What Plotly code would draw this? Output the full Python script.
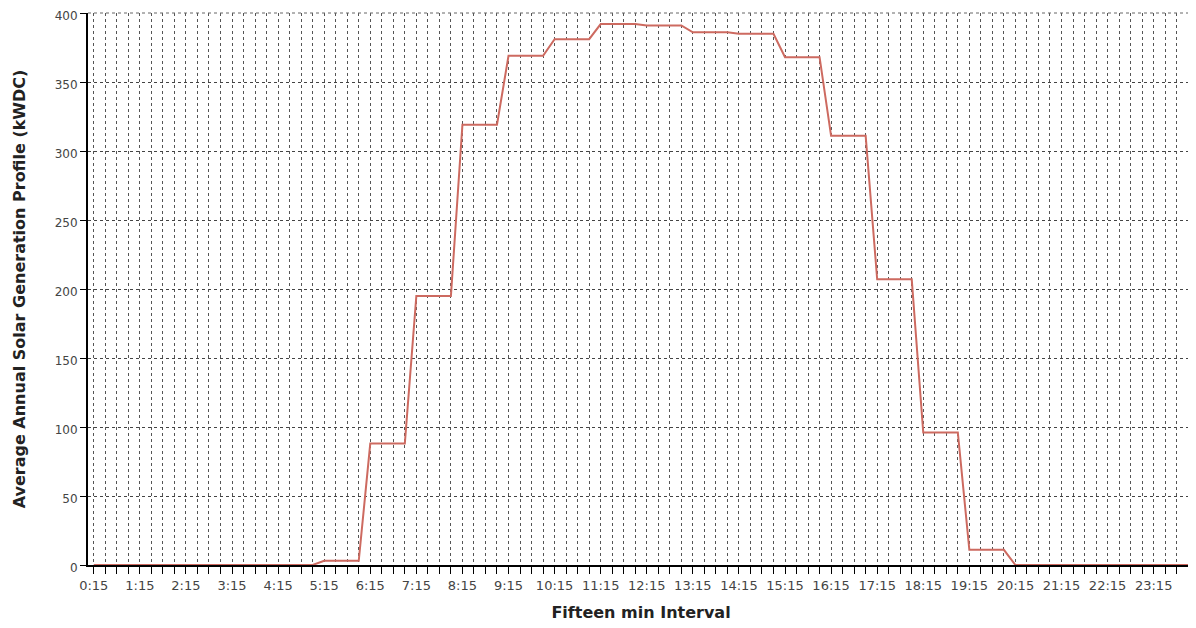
import plotly.graph_objects as go

# 96 fifteen-minute categories: 0:15 ... 24:00
categories = [f"{(m // 60)}:{m % 60:02d}" for m in range(15, 24 * 60 + 1, 15)]

# Average annual solar generation (kWDC)
values = [
    0, 0, 0, 0,          # 0:15 - 1:00
    0, 0, 0, 0,          # 1:15 - 2:00
    0, 0, 0, 0,          # 2:15 - 3:00
    0, 0, 0, 0,          # 3:15 - 4:00
    0, 0, 0, 0,          # 4:15 - 5:00
    3, 3, 3, 3,          # 5:15 - 6:00
    88, 88, 88, 88,      # 6:15 - 7:00
    195, 195, 195, 195,  # 7:15 - 8:00
    319, 319, 319, 319,  # 8:15 - 9:00
    369, 369, 369, 369,  # 9:15 - 10:00
    381, 381, 381, 381,  # 10:15 - 11:00
    392, 392, 392, 392,  # 11:15 - 12:00
    391, 391, 391, 391,  # 12:15 - 13:00
    386, 386, 386, 386,  # 13:15 - 14:00
    385, 385, 385, 385,  # 14:15 - 15:00
    368, 368, 368, 368,  # 15:15 - 16:00
    311, 311, 311, 311,  # 16:15 - 17:00
    207, 207, 207, 207,  # 17:15 - 18:00
    96, 96, 96, 96,      # 18:15 - 19:00
    11, 11, 11, 11,      # 19:15 - 20:00
    0, 0, 0, 0,          # 20:15 - 21:00
    0, 0, 0, 0,          # 21:15 - 22:00
    0, 0, 0, 0,          # 22:15 - 23:00
    0, 0, 0, 0,          # 23:15 - 24:00
]

# tick labels: every hour at :15
tick_labels = [c if c.endswith(":15") else "" for c in categories]

y_ticks = [0, 50, 100, 150, 200, 250, 300, 350, 400]

fig = go.Figure()
fig.add_trace(go.Scatter(
    x=categories, y=values, mode="lines",
    line=dict(color="#cd6a60", width=2),
    showlegend=False, hoverinfo="x+y",
))

font_family = "DejaVu Sans, Verdana, sans-serif"

# page body has an 8px default margin, so the figure is sized to fit the window
fig.update_layout(
    width=1188, height=620,
    margin=dict(l=80, r=2, t=5, b=63),
    paper_bgcolor="white", plot_bgcolor="white",
    font=dict(family=font_family, color="#333333", size=12),
    xaxis=dict(
        type="category", automargin=False,
        categoryorder="array", categoryarray=categories,
        range=[-0.5, len(categories) - 0.5],
        tickmode="array", tickvals=categories, ticktext=tick_labels,
        tickangle=0, ticklabeloverflow="allow",
        showgrid=True, gridcolor="#555555", gridwidth=1, griddash="dot",
        showline=True, linecolor="black", linewidth=2,
        ticks="outside", ticklen=7, tickcolor="black", tickwidth=1,
        tickfont=dict(size=13, color="#444444"),
        title=dict(text="<b>Fifteen min Interval</b>", standoff=15,
                   font=dict(size=16, color="#222222")),
        zeroline=False, mirror=False,
    ),
    yaxis=dict(
        range=[0, 400], automargin=False,
        tickmode="array", tickvals=y_ticks, ticklabeloverflow="allow",
        ticklabelshift=3,
        showgrid=True, gridcolor="#444444", gridwidth=1, griddash="dot",
        showline=True, linecolor="black", linewidth=2,
        ticks="outside", ticklen=6, tickcolor="black", tickwidth=1,
        tickfont=dict(size=12, color="#444444"),
        title=dict(text="<b>Average Annual Solar Generation Profile (kWDC)</b>",
                   standoff=25, font=dict(size=16, color="#222222")),
        zeroline=False,
    ),
)

# dotted outline on top and right of plot area
fig.add_shape(type="line", xref="paper", yref="paper", x0=0, x1=1, y0=1, y1=1,
              line=dict(color="#666666", width=1, dash="dot"))
fig.add_shape(type="line", xref="paper", yref="paper", x0=1, x1=1, y0=0, y1=1,
              line=dict(color="#666666", width=1, dash="dot"))

fig.write_html("out.html")
